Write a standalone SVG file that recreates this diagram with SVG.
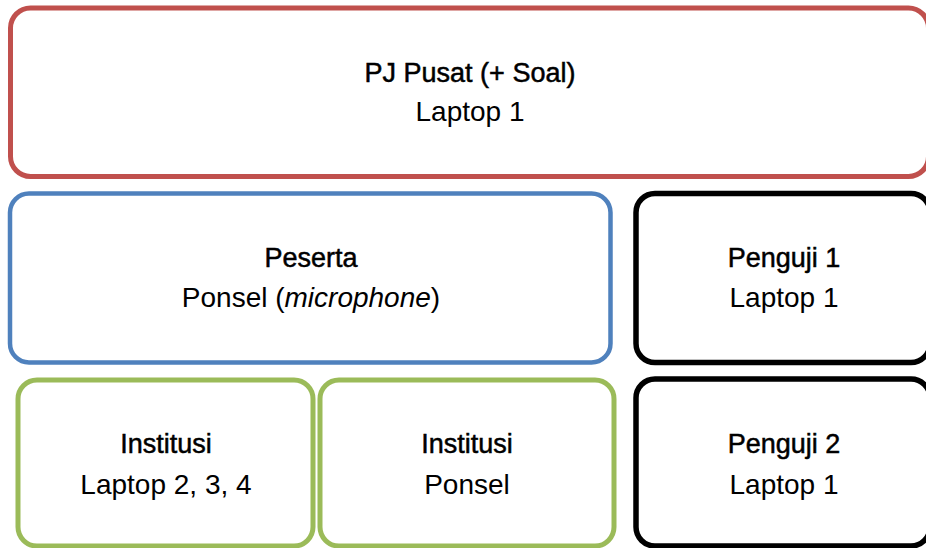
<svg xmlns="http://www.w3.org/2000/svg" width="926" height="548" viewBox="0 0 926 548">
  <style>
    .box { fill: #ffffff; stroke-width: 5; }
    .red { stroke: #C0504D; }
    .blue { stroke: #4F81BD; stroke-width: 4.5; }
    .green { stroke: #9BBB59; }
    .black { stroke: #000000; stroke-width: 5.5; }
    text { font-family: "Liberation Sans", Arial, sans-serif; font-size: 28px; fill: #000; text-anchor: middle; }
    /* medium-weight headings: regular face thickened with a thin outline */
    .title { font-size: 27px; stroke: #000; stroke-width: 0.5px; }
  </style>
  <rect x="0" y="0" width="926" height="548" fill="#ffffff"/>

  <g id="pj-pusat">
    <rect class="box red" x="10.5" y="8" width="918" height="168.5" rx="20"/>
    <text class="title" x="470" y="82">PJ Pusat (+ Soal)</text>
    <text x="470" y="121">Laptop 1</text>
  </g>

  <g id="peserta">
    <rect class="box blue" x="10" y="193.5" width="600.5" height="169" rx="19"/>
    <text class="title" x="311" y="267">Peserta</text>
    <text x="311" y="307">Ponsel (<tspan font-style="italic">microphone</tspan>)</text>
  </g>

  <g id="penguji-1">
    <rect class="box black" x="636" y="193.5" width="294" height="169" rx="19"/>
    <text class="title" x="784" y="267">Penguji 1</text>
    <text x="784" y="307">Laptop 1</text>
  </g>

  <g id="institusi-laptop">
    <rect class="box green" x="18" y="380" width="295" height="166" rx="19"/>
    <text class="title" x="166" y="453">Institusi</text>
    <text x="166" y="494">Laptop 2, 3, 4</text>
  </g>

  <g id="institusi-ponsel">
    <rect class="box green" x="320" y="380" width="294" height="166" rx="19"/>
    <text class="title" x="467" y="453">Institusi</text>
    <text x="467" y="494">Ponsel</text>
  </g>

  <g id="penguji-2">
    <rect class="box black" x="636" y="379" width="294" height="167" rx="19"/>
    <text class="title" x="784" y="453">Penguji 2</text>
    <text x="784" y="494">Laptop 1</text>
  </g>

  <g id="connectors"></g>
</svg>
